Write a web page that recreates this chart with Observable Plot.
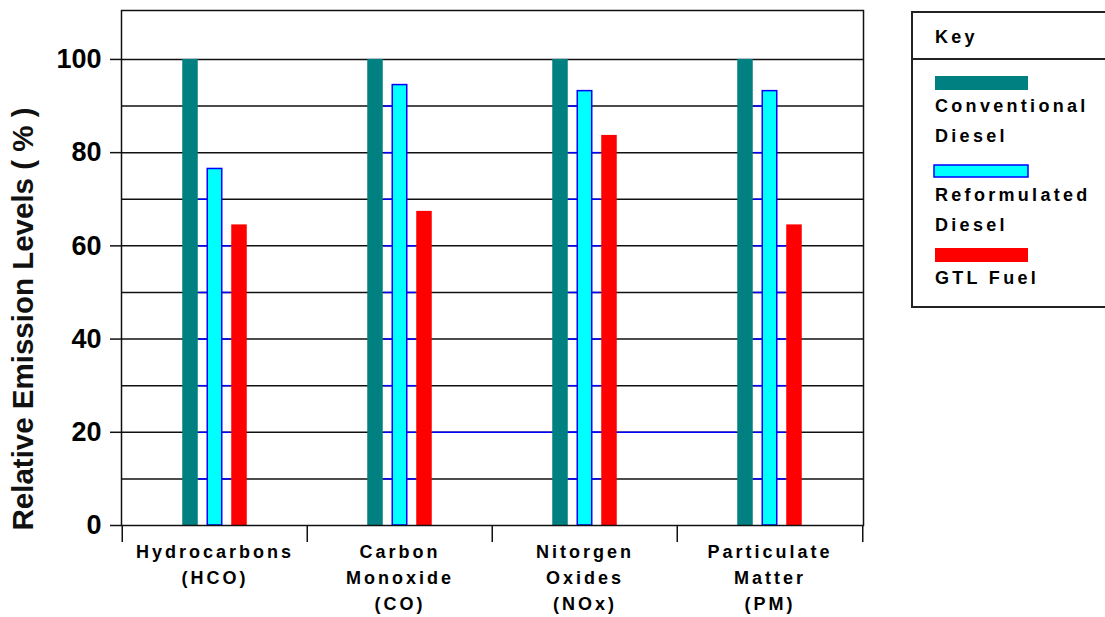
<!DOCTYPE html>
<html>
<head>
<meta charset="utf-8">
<script src="https://cdn.jsdelivr.net/npm/d3@7"></script>
<script src="https://cdn.jsdelivr.net/npm/@observablehq/plot@0.6"></script>
<style>
  html, body { margin: 0; padding: 0; background: #ffffff; }
  #wrap { position: relative; width: 1105px; height: 617px; overflow: hidden; }
  #wrap svg { position: absolute; left: 0; top: 0; }
  g[aria-label="x-axis tick label"] text { letter-spacing: 3px; }
  #legend text { letter-spacing: 3.3px; }
</style>
</head>
<body>
<div id="wrap"></div>
<script>
// ---- data ----
const categories = ["Hydrocarbons\n(HCO)", "Carbon\nMonoxide\n(CO)", "Nitorgen\nOxides\n(NOx)", "Particulate\nMatter\n(PM)"];
const seriesNames = ["Conventional\nDiesel", "Reformulated\nDiesel", "GTL Fuel"];
const seriesColors = ["#008080", "#00FFFF", "#FF0000"];
const conventional = [100, 100, 100, 100];
const reformulated = [76.5, 94.5, 93.2, 93.2];
const gtlFuel = [64.5, 67.4, 83.7, 64.5];
const yTicks = [0, 20, 40, 60, 80, 100];
const gridValues = [10, 20, 30, 40, 50, 60, 70, 80, 90, 100];
const yLabel = "Relative Emission Levels ( % )";
const legendTitle = "Key";

// ---- tables built from arrays ----
const table = categories.map((c, i) => ({category: c, conv: conventional[i], ref: reformulated[i], gtl: gtlFuel[i]}));
const blueA = [], blueB = [];
categories.forEach((c, i) => gridValues.forEach(v => {
  if (v < reformulated[i]) blueA.push({category: c, v});
  if (v < gtlFuel[i] && v < reformulated[i]) blueB.push({category: c, v});
}));
const blueLong = [{from: categories[1], to: categories[3], v: 20}];

const font = "Arial, 'Liberation Sans', Helvetica, sans-serif";

const chart = Plot.plot({
  width: 1105,
  height: 617,
  marginLeft: 121,
  marginRight: 242,
  marginTop: 10,
  marginBottom: 92,
  style: {fontFamily: font, background: "transparent", color: "#000", overflow: "visible"},
  x: {domain: categories, padding: 0, align: 0.5},
  y: {domain: [0, 110.5]},
  marks: [
    Plot.ruleY(gridValues, {stroke: "#111", strokeWidth: 1.5}),
    Plot.ruleY(blueA, {x1: "category", x2: "category", y: "v", stroke: "#0000FF", strokeWidth: 1.5, insetLeft: 76.25, insetRight: 100.25}),
    Plot.ruleY(blueB, {x1: "category", x2: "category", y: "v", stroke: "#0000FF", strokeWidth: 1.5, insetLeft: 100.25, insetRight: 76.25}),
    Plot.ruleY(blueLong, {x1: "from", x2: "to", y: "v", stroke: "#0000FF", strokeWidth: 1.5, insetLeft: 125.25, insetRight: 125.25}),
    Plot.barY(table, {x: "category", y: "conv", fill: seriesColors[0], insetLeft: 84.75, insetRight: 84.75, dx: -24.5}),
    Plot.barY(table, {x: "category", y: "ref", fill: seriesColors[1], stroke: "#0000FF", strokeWidth: 1.5, insetLeft: 85.25, insetRight: 85.25}),
    Plot.barY(table, {x: "category", y: "gtl", fill: seriesColors[2], insetLeft: 84.75, insetRight: 84.75, dx: 24.5}),
    Plot.frame({stroke: "#111", strokeWidth: 1.5}),
    Plot.ruleX(categories, {x: d => d, y1: 0, y2: 0, dx: -92.75, insetBottom: -17, stroke: "#111", strokeWidth: 1.5}),
    Plot.ruleX([categories[categories.length - 1]], {x: d => d, y1: 0, y2: 0, dx: 92.75, insetBottom: -17, stroke: "#111", strokeWidth: 1.5}),
    Plot.axisY({ticks: yTicks, tickSize: 11, tickPadding: 9, fontSize: 27, fontWeight: "bold", label: null, tickFormat: d => String(d), stroke: "#111", strokeWidth: 1.5}),
    Plot.axisX({tickSize: 0, tickPadding: 14, fontSize: 18, fontWeight: "bold", lineHeight: 1.45, label: null}),
    Plot.text([yLabel], {frameAnchor: "left", textAnchor: "middle", lineAnchor: "middle", dx: -98, dy: 51, rotate: -90, fontSize: 29.5, fontWeight: "bold", fill: "#111"})
  ]
});
document.getElementById("wrap").appendChild(chart);

// ---- legend (beside the chart) ----
const lg = d3.select("#wrap").append("svg")
  .attr("id", "legend")
  .attr("width", 1105).attr("height", 617)
  .style("pointer-events", "none")
  .style("font-family", font)
  .style("font-weight", "bold")
  .style("font-size", "18px");
lg.append("rect").attr("x", 912).attr("y", 12).attr("width", 200).attr("height", 295)
  .attr("fill", "none").attr("stroke", "#222").attr("stroke-width", 2);
lg.append("line").attr("x1", 912).attr("x2", 1112).attr("y1", 59).attr("y2", 59)
  .attr("stroke", "#222").attr("stroke-width", 2);
lg.append("text").attr("x", 935).attr("y", 43).text(legendTitle);
const itemTops = [76, 165, 248];
seriesNames.forEach((name, i) => {
  const top = itemTops[i];
  const sw = lg.append("rect").attr("x", 935).attr("y", top).attr("width", 93).attr("height", 14).attr("fill", seriesColors[i]);
  if (i === 1) sw.attr("stroke", "#0000FF").attr("stroke-width", 1.5).attr("x", 934).attr("width", 94).attr("height", 12);
  name.split("\n").forEach((line, j) => {
    lg.append("text").attr("x", 935).attr("y", top + 36 + j * 30).text(line);
  });
});
</script>
</body>
</html>
